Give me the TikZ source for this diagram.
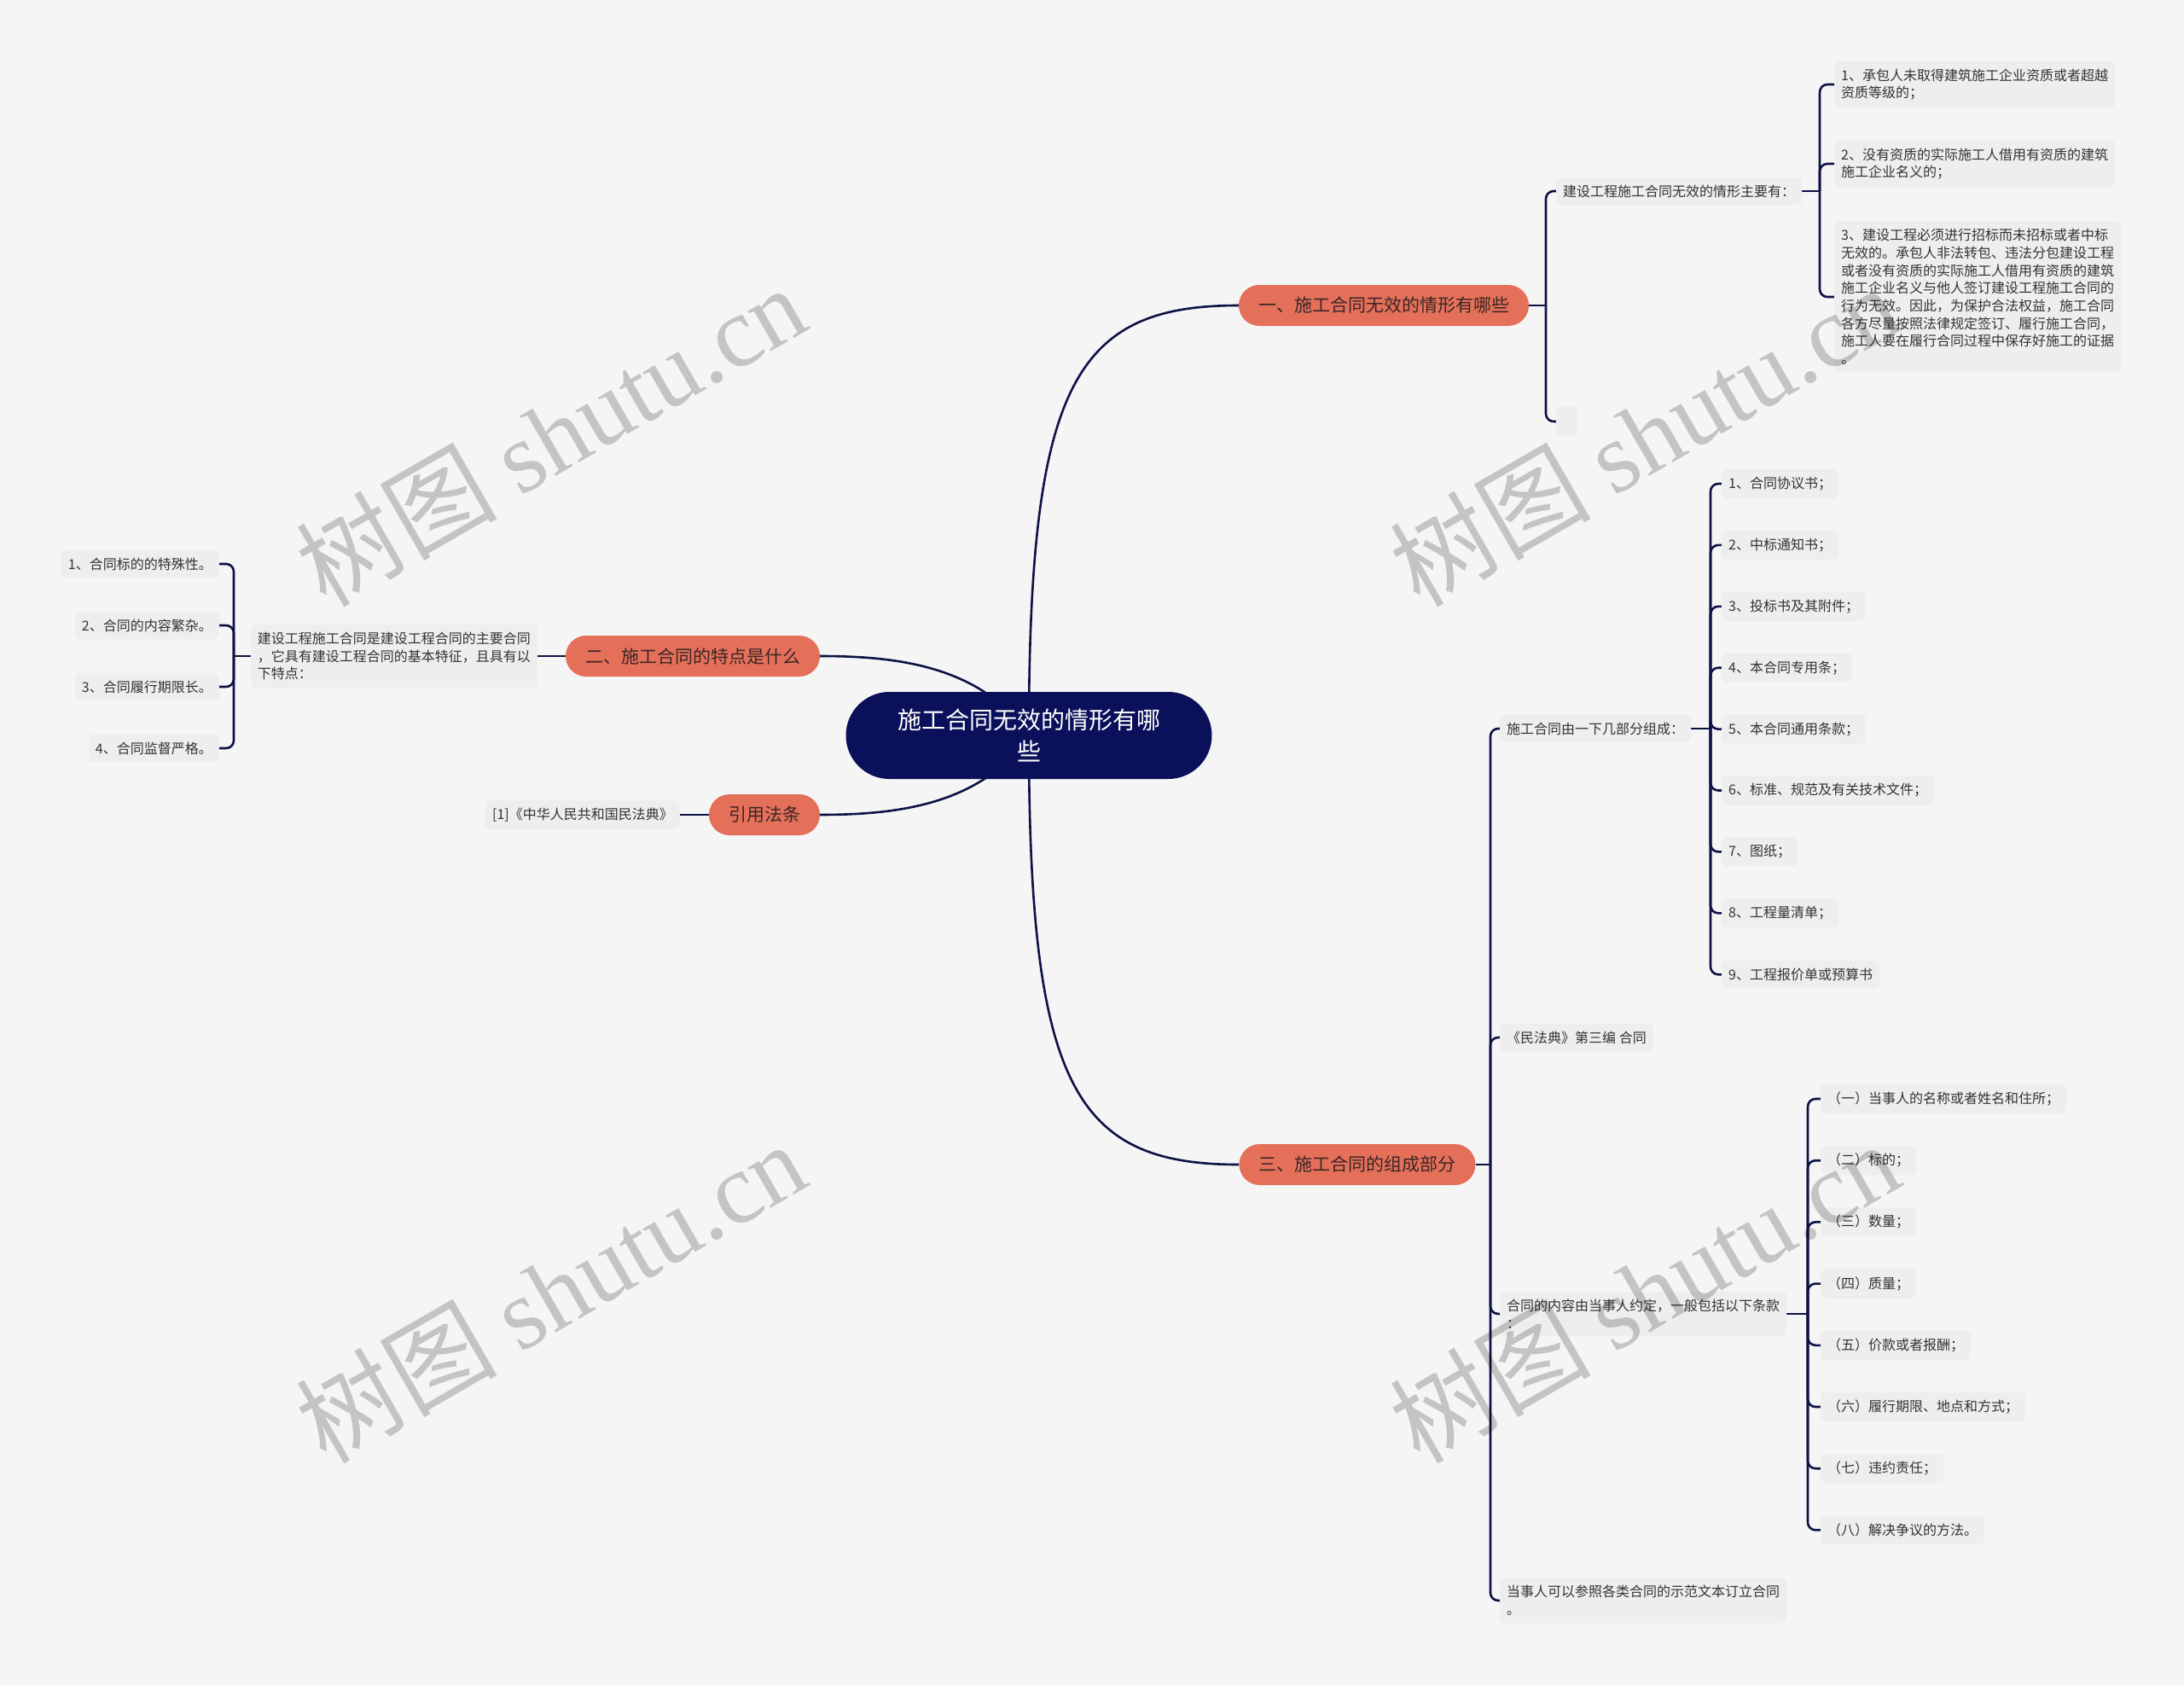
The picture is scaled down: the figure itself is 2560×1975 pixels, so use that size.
\documentclass[tikz,border=0pt]{standalone}
\usepackage{fontspec}
\setmainfont{Noto Sans CJK SC}
\newfontfamily\wmlatin{Liberation Serif}
\definecolor{bgc}{HTML}{F5F5F5}
\definecolor{boxc}{HTML}{EEEEEE}
\definecolor{linec}{HTML}{0D1245}
\definecolor{topicc}{HTML}{E4705A}
\definecolor{rootc}{HTML}{0A1059}
\definecolor{txtc}{HTML}{333333}
\definecolor{topictxt}{HTML}{3A2626}
\definecolor{wmc}{HTML}{CDCDCD}
\pgfdeclarelayer{bglayer}
\pgfdeclarelayer{linelayer}
\pgfsetlayers{bglayer,linelayer,main}
\begin{document}
\begin{tikzpicture}[x=1pt,y=-1pt,
  leaf/.style={fill=boxc, rounded corners=6pt, text=txtc, font=\fontsize{16}{20.7}\selectfont, inner xsep=8pt, inner ysep=9pt, align=left},
  topic/.style={fill=topicc, rounded corners=24pt, text=topictxt, font=\fontsize{21}{26}\selectfont, minimum height=48pt, inner xsep=23pt},
  rootnode/.style={fill=rootc, rounded corners=51pt, text=white, font=\fontsize{28}{37}\selectfont, minimum width=429pt, minimum height=102pt, align=center},
  conn/.style={draw=linec, line width=2.6pt},
  bconn/.style={draw=linec, line width=2.6pt, rounded corners=9pt},
  wm/.style={text=wmc, font=\fontsize{118}{120}\selectfont, rotate=30}
]
\useasboundingbox (0,0) rectangle (2560,1975);
\begin{pgfonlayer}{bglayer}
  \fill[bgc] (0,0) rectangle (2560,1975);
\end{pgfonlayer}

% root and topics
\node[rootnode] (root) at (1206,862) {施工合同无效的情形有哪\\些};
\node[topic] (t1) at (1622,358) {一、施工合同无效的情形有哪些};
\node[topic] (t2) at (812,769) {二、施工合同的特点是什么};
\node[topic] (t3) at (1591,1365) {三、施工合同的组成部分};
\node[topic] (t4) at (896,955) {引用法条};

% topic 1 children
\node[leaf, anchor=west] (c1) at (1824,224) {建设工程施工合同无效的情形主要有：};
\node[fill=boxc, rounded corners=6pt, minimum width=25pt, minimum height=36pt, inner sep=0pt, anchor=west] (c2) at (1824,494) {};
\node[leaf, anchor=west] (g1) at (2150,99) {1、承包人未取得建筑施工企业资质或者超越\\资质等级的；};
\node[leaf, anchor=west] (g2) at (2150,192) {2、没有资质的实际施工人借用有资质的建筑\\施工企业名义的；};
\node[leaf, anchor=west] (g3) at (2150,348) {3、建设工程必须进行招标而未招标或者中标\\无效的。承包人非法转包、违法分包建设工程\\或者没有资质的实际施工人借用有资质的建筑\\施工企业名义与他人签订建设工程施工合同的\\行为无效。因此，为保护合法权益，施工合同\\各方尽量按照法律规定签订、履行施工合同，\\施工人要在履行合同过程中保存好施工的证据\\。};
\coordinate (j1) at (1812,358);
\coordinate (j1b) at (2133,224);

% topic 2 children
\node[leaf, anchor=east] (d0) at (630,769) {建设工程施工合同是建设工程合同的主要合同\\，它具有建设工程合同的基本特征，且具有以\\下特点：};
\node[leaf, anchor=east] (l1) at (257,661) {1、合同标的的特殊性。};
\node[leaf, anchor=east] (l2) at (257,733) {2、合同的内容繁杂。};
\node[leaf, anchor=east] (l3) at (257,805) {3、合同履行期限长。};
\node[leaf, anchor=east] (l4) at (257,877) {4、合同监督严格。};
\coordinate (j2) at (274,769);

% topic 4 child
\node[leaf, anchor=east] (r1) at (797,955) {[1]《中华人民共和国民法典》};

% topic 3 children
\node[leaf, anchor=west] (a) at (1758,854) {施工合同由一下几部分组成：};
\node[leaf, anchor=west] (b) at (1758,1216) {《民法典》第三编 合同};
\node[leaf, anchor=west] (c) at (1758,1540) {合同的内容由当事人约定，一般包括以下条款\\：};
\node[leaf, anchor=west] (d) at (1758,1876) {当事人可以参照各类合同的示范文本订立合同\\。};
\coordinate (j3) at (1747,1365);
\coordinate (j3a) at (2005,854);
\coordinate (j3c) at (2119,1540);

\foreach \t [count=\i] in {{1、合同协议书；},{2、中标通知书；},{3、投标书及其附件；},{4、本合同专用条；},{5、本合同通用条款；},{6、标准、规范及有关技术文件；},{7、图纸；},{8、工程量清单；},{9、工程报价单或预算书}}
  \node[leaf, anchor=west] (p\i) at (2018,{567+71.9*(\i-1)}) {\t};

\foreach \t [count=\i] in {{（一）当事人的名称或者姓名和住所；},{（二）标的；},{（三）数量；},{（四）质量；},{（五）价款或者报酬；},{（六）履行期限、地点和方式；},{（七）违约责任；},{（八）解决争议的方法。}}
  \node[leaf, anchor=west] (q\i) at (2134,{1288+72.2*(\i-1)}) {\t};

% connectors
\begin{pgfonlayer}{linelayer}
  \draw[conn] (root.center) .. controls (1206,450) and (1260,358) .. (t1.west);
  \draw[conn] (root.center) .. controls (1206,1274) and (1260,1365) .. (t3.west);
  \draw[conn] (root.center) .. controls (1150,780) and (1050,769) .. (t2.east);
  \draw[conn] (root.center) .. controls (1150,944) and (1050,955) .. (t4.east);

  \draw[conn] (t1.east) -- (j1);
  \draw[bconn] (j1) |- (c1.west);
  \draw[bconn] (j1) |- (c2.west);
  \draw[conn] (c1.east) -- (j1b);
  \draw[bconn] (j1b) |- (g1.west);
  \draw[bconn] (j1b) |- (g2.west);
  \draw[bconn] (j1b) |- (g3.west);

  \draw[conn] (t2.west) -- (d0.east);
  \draw[conn] (d0.west) -- (j2);
  \foreach \i in {1,...,4} \draw[bconn] (j2) |- (l\i.east);

  \draw[conn] (t4.west) -- (r1.east);

  \draw[conn] (t3.east) -- (j3);
  \draw[bconn] (j3) |- (a.west);
  \draw[bconn] (j3) |- (b.west);
  \draw[bconn] (j3) |- (c.west);
  \draw[bconn] (j3) |- (d.west);
  \draw[conn] (a.east) -- (j3a);
  \foreach \i in {1,...,9} \draw[bconn] (j3a) |- (p\i.west);
  \draw[conn] (c.east) -- (j3c);
  \foreach \i in {1,...,8} \draw[bconn] (j3c) |- (q\i.west);
\end{pgfonlayer}

% watermarks
\begin{scope}[blend mode=multiply]
\node[wm] (w1) at (645,510) {树图 {\wmlatin shutu.cn}};
\node[wm] (w2) at (1927,510) {树图 {\wmlatin shutu.cn}};
\node[wm] (w3) at (645,1514) {树图 {\wmlatin shutu.cn}};
\node[wm] (w4) at (1927,1514) {树图 {\wmlatin shutu.cn}};
\end{scope}
\end{tikzpicture}
\end{document}
